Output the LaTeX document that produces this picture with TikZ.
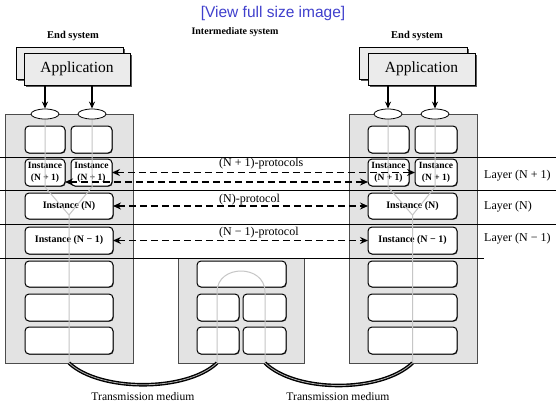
\documentclass[tikz,border=0pt]{standalone}
\usepackage{fontspec}
\setmainfont{Liberation Serif}
\newfontfamily\linksans{Liberation Sans}
\usetikzlibrary{arrows.meta,shapes.geometric,shadows}
\definecolor{linkblue}{RGB}{64,64,205}
\newcommand\bx[7][]{\node[#1,minimum width={(#5-#3)*1pt},minimum height={(#6-#4)*1pt}] (#2) at ({(#3+#5)/2},{(#4+#6)/2}) {#7};}
\begin{document}
\begin{tikzpicture}[x=1pt,y=-1pt,
  stackbox/.style={fill=gray!22, draw=black!70, line width=0.7pt, inner sep=0pt, outer sep=0pt},
  ibox/.style={rounded corners=4pt, fill=white, draw=black, line width=1pt, inner sep=0pt, outer sep=0pt, align=center,
    font=\bfseries\fontsize{10}{12}\selectfont,
    drop shadow={shadow xshift=0.7pt, shadow yshift=-0.7pt, fill=black!70, opacity=1}},
  appbox/.style={fill=gray!16, draw=black, line width=0.6pt, inner sep=0pt, outer sep=0pt,
    font=\fontsize{15.5}{16}\selectfont,
    drop shadow={shadow xshift=1.8pt, shadow yshift=-1.8pt, fill=black!65, opacity=1}},
  ell/.style={ellipse, draw=black, fill=white, line width=0.8pt, minimum width=28pt, minimum height=10pt, inner sep=0pt},
  layerline/.style={draw=black, line width=0.6pt},
  flow/.style={draw=gray!45, line width=1pt},
  proto/.style={draw=black, line width=1.8pt, dash pattern=on 7pt off 4pt,
    {Stealth[length=8pt,width=7pt]}-{Stealth[length=8pt,width=7pt]}},
  down/.style={draw=black, line width=1.2pt, -{Stealth[length=7pt,width=6pt]}},
  cable/.style={draw=black, line width=1.4pt, double=gray!60, double distance=0.8pt},
  lbl/.style={font=\fontsize{12}{13}\selectfont, inner sep=0pt},
  head/.style={font=\bfseries\fontsize{10.5}{12}\selectfont, inner sep=0pt}
]
\useasboundingbox (0,0) rectangle (556,408);
\fill[white] (0,0) rectangle (556,408);

% headings
\node[font=\linksans\fontsize{15.5}{17}\selectfont, text=linkblue, inner sep=0pt] (link) at (273,13) {[View full size image]};
\node[head] (hl) at (73,36) {End system};
\node[head, font=\bfseries\fontsize{10}{12}\selectfont] (hm) at (235,32) {Intermediate system};
\node[head] (hr) at (417,36) {End system};

% stacks
\bx[stackbox]{LS}{5}{114}{133}{363}{}
\bx[stackbox]{RS}{349}{114}{477}{363}{}
\bx[stackbox]{MS}{178}{258}{304}{363}{}

% layer lines
\draw[layerline] (0,157) -- (556,157);
\draw[layerline] (0,190) -- (556,190);
\draw[layerline] (0,224) -- (556,224);
\draw[layerline] (0,258) -- (484,258);

% left inner boxes
\bx[ibox]{L1a}{25}{126}{65}{153}{}
\bx[ibox]{L2a}{71}{126}{112}{153}{}
\bx[ibox, font=\bfseries\fontsize{9.5}{12}\selectfont]{L1b}{25}{159}{65}{186}{Instance\\(N + 1)}
\bx[ibox, font=\bfseries\fontsize{9.5}{12}\selectfont]{L2b}{71}{159}{112}{186}{Instance\\(N + 1)}
\bx[ibox]{LN}{25}{193}{113}{219}{Instance (N)}
\bx[ibox]{LNm}{25}{227}{113}{254}{Instance (N − 1)}
\bx[ibox]{L3}{25}{261}{113}{287}{}
\bx[ibox]{L4}{25}{294}{113}{321}{}
\bx[ibox]{L5}{25}{327}{113}{354}{}

% right inner boxes
\bx[ibox]{R1a}{368}{126}{409}{153}{}
\bx[ibox]{R2a}{415}{126}{457}{153}{}
\bx[ibox, font=\bfseries\fontsize{9.5}{12}\selectfont]{R1b}{368}{159}{409}{186}{Instance\\(N + 1)}
\bx[ibox, font=\bfseries\fontsize{9.5}{12}\selectfont]{R2b}{415}{159}{457}{186}{Instance\\(N + 1)}
\bx[ibox]{RN}{368}{193}{457}{219}{Instance (N)}
\bx[ibox]{RNm}{368}{227}{457}{254}{Instance (N − 1)}
\bx[ibox]{R3}{368}{261}{457}{287}{}
\bx[ibox]{R4}{368}{294}{457}{321}{}
\bx[ibox]{R5}{368}{327}{457}{354}{}

% intermediate inner boxes
\bx[ibox]{M1}{197}{261}{286}{287}{}
\bx[ibox]{M2a}{197}{294}{239}{321}{}
\bx[ibox]{M2b}{243}{294}{286}{321}{}
\bx[ibox]{M3a}{197}{327}{239}{354}{}
\bx[ibox]{M3b}{243}{327}{286}{354}{}

% flow paths (grey)
\coordinate (lb) at (69,363);
\coordinate (rb) at (412.5,363);
\coordinate (mbl) at (217,363);
\coordinate (mbr) at (265,363);
\draw[flow] (45,114) -- (45,187) -- (69,215) -- (lb);
\draw[flow] (92,114) -- (92,187) -- (69,215);
\draw[flow] (388,114) -- (388,187) -- (412.5,215) -- (rb);
\draw[flow] (435,114) -- (435,187) -- (412.5,215);
\draw[flow] (mbl) -- (217,292) .. controls (217,264) and (265,264) .. (265,292) -- (mbr);

% protocol arrows
\draw[proto] (L2b.east) -- (R2b.west);
\draw[proto] ([yshift=-9.5pt]L1b.east) -- ([yshift=-9.5pt]R1b.west);
\draw[proto] (LN.east) -- (RN.west);
\draw[proto] (LNm.east) -- (RNm.west);
\node[lbl, anchor=west] (p1) at (219,164) {(N + 1)-protocols};
\node[lbl, anchor=west] (p2) at (219,200) {(N)-protocol};
\node[lbl, anchor=west] (p3) at (219,233) {(N − 1)-protocol};

% layer labels
\node[lbl, anchor=west] (y1) at (484,176) {Layer (N + 1)};
\node[lbl, anchor=west] (y2) at (484,207) {Layer (N)};
\node[lbl, anchor=west] (y3) at (484,239) {Layer (N − 1)};

% applications
\bx[appbox]{LAb}{16}{47}{123}{79}{}
\bx[appbox]{LA}{24}{53}{130}{85}{Application}
\bx[appbox]{RAb}{359}{47}{467}{79}{}
\bx[appbox]{RA}{368}{53}{475}{85}{Application}

% ports
\node[ell] (le1) at (45,114) {};
\node[ell] (le2) at (92,114) {};
\node[ell] (re1) at (388,114) {};
\node[ell] (re2) at (435,114) {};
\draw[down] (LA.south -| le1) -- (le1.north);
\draw[down] (LA.south -| le2) -- (le2.north);
\draw[down] (RA.south -| re1) -- (re1.north);
\draw[down] (RA.south -| re2) -- (re2.north);

% transmission media
\draw[cable] (lb) .. controls (100,392) and (186,392) .. (mbl);
\draw[cable] (mbr) .. controls (296,393) and (381,393) .. (rb);
\node[lbl, font=\fontsize{11.6}{13}\selectfont] (t1) at (143,397) {Transmission medium};
\node[lbl, font=\fontsize{11.6}{13}\selectfont] (t2) at (338,397) {Transmission medium};
\end{tikzpicture}
\end{document}
